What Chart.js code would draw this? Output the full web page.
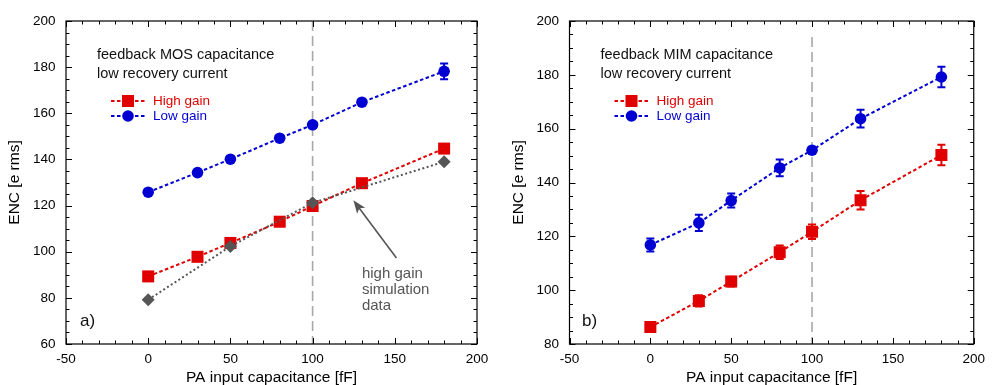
<!DOCTYPE html>
<html>
<head>
<meta charset="utf-8">
<script src="https://cdn.jsdelivr.net/npm/chart.js@4.4.0/dist/chart.umd.min.js"></script>
<style>
  html, body { margin:0; padding:0; background:#fff; }
  #wrap { position:relative; width:992px; height:385px; }
  .panel { position:absolute; top:0; width:496px; height:385px; }
</style>
</head>
<body>
<div id="wrap">
  <div class="panel" style="left:0"><canvas id="chartA" width="496" height="385"></canvas></div>
  <div class="panel" style="left:496px"><canvas id="chartB" width="496" height="385"></canvas></div>
</div>
<script>
// ---- data ----
const CAP      = [0, 30, 50, 80, 100, 130, 180];   // PA input capacitance [fF]
const SIM_CAP  = [0, 50, 100, 180];

// a) feedback MOS capacitance
const HIGH_A     = [89.3, 97.8, 103.8, 113.0, 119.8, 129.7, 144.7];
const HIGH_A_ERR = [0, 0, 0, 0, 0, 0, 0];
const LOW_A      = [125.8, 134.3, 140.1, 149.2, 155.0, 164.8, 178.2];
const LOW_A_ERR  = [0, 0, 0, 0, 0, 0, 3.4];
const SIM_A      = [79.2, 102.3, 121.2, 139.0];

// b) feedback MIM capacitance
const HIGH_B     = [86.3, 96.0, 103.2, 114.1, 121.7, 133.4, 150.2];
const HIGH_B_ERR = [0.8, 2.1, 1.8, 2.5, 2.7, 3.4, 3.8];
const LOW_B      = [116.8, 125.0, 133.3, 145.4, 152.0, 163.7, 179.2];
const LOW_B_ERR  = [2.4, 3.0, 2.6, 3.1, 1.0, 3.3, 3.8];

const SERIES_NAMES = ['High gain', 'Low gain'];
const X_MIN = -50, X_MAX = 200;

const C = { red:'#e00000', blue:'#0000d2', grey:'#555555', vline:'#a9a9a9', text:'#111' };
const FONT = '"Liberation Sans", Arial, Helvetica, sans-serif';

function pts(xs, ys) { return xs.map((x, i) => ({ x: x, y: ys[i] })); }

function mkSet(label, xs, ys, errs, color, style, radius, dash, inLegend) {
  return {
    label, data: pts(xs, ys), errors: errs, inLegend,
    borderColor: color, backgroundColor: color,
    pointBackgroundColor: color, pointBorderColor: color, pointBorderWidth: 0,
    pointStyle: style, pointRadius: radius, pointHoverRadius: radius,
    borderWidth: 2, borderDash: dash, showLine: true, fill: false, tension: 0
  };
}

// draws the plot furniture: dashed marker line, error bars, frame with inward ticks, texts
const deco = {
  id: 'deco',
  beforeDatasetsDraw(chart, args, o) {
    const { ctx, chartArea: a, scales: { x } } = chart;
    const px = x.getPixelForValue(o.vline);
    ctx.save();
    ctx.strokeStyle = C.vline; ctx.lineWidth = 1.6; ctx.setLineDash([10, 5]);
    ctx.beginPath(); ctx.moveTo(px, a.top + o.vlineTopGap); ctx.lineTo(px, a.bottom); ctx.stroke();
    ctx.restore();
  },
  afterDatasetsDraw(chart) {
    const { ctx, scales: { y } } = chart;
    chart.data.datasets.forEach((d, di) => {
      if (!d.errors) return;
      const meta = chart.getDatasetMeta(di);
      ctx.save();
      ctx.strokeStyle = d.borderColor; ctx.lineWidth = 2;
      d.data.forEach((p, i) => {
        const e = d.errors[i];
        if (!e) return;
        const px = meta.data[i].x;
        const y1 = y.getPixelForValue(p.y + e), y2 = y.getPixelForValue(p.y - e);
        ctx.beginPath();
        ctx.moveTo(px, y1); ctx.lineTo(px, y2);
        ctx.moveTo(px - 4, y1); ctx.lineTo(px + 4, y1);
        ctx.moveTo(px - 4, y2); ctx.lineTo(px + 4, y2);
        ctx.stroke();
      });
      ctx.restore();
    });
  },
  afterDraw(chart, args, o) {
    const { ctx, chartArea: a, scales: { x, y } } = chart;
    ctx.save();
    // frame
    ctx.strokeStyle = '#000'; ctx.lineWidth = 1.2;
    ctx.strokeRect(a.left, a.top, a.right - a.left, a.bottom - a.top);
    // inward ticks on all four sides
    ctx.lineWidth = 1;
    ctx.beginPath();
    for (let v = x.min; v <= x.max + 1e-9; v += o.xMinor) {
      const px = Math.round(x.getPixelForValue(v)) + 0.5;
      const len = (Math.abs(v % o.xMajor) < 1e-9) ? 6 : 3.5;
      ctx.moveTo(px, a.bottom); ctx.lineTo(px, a.bottom - len);
      ctx.moveTo(px, a.top); ctx.lineTo(px, a.top + len);
    }
    for (let v = y.min; v <= y.max + 1e-9; v += o.yMinor) {
      const py = Math.round(y.getPixelForValue(v)) + 0.5;
      const len = (Math.abs(v % o.yMajor) < 1e-9) ? 6 : 3.5;
      ctx.moveTo(a.left, py); ctx.lineTo(a.left + len, py);
      ctx.moveTo(a.right, py); ctx.lineTo(a.right - len, py);
    }
    ctx.stroke();

    // header text
    ctx.fillStyle = C.text; ctx.textBaseline = 'middle'; ctx.textAlign = 'left';
    ctx.font = '14.5px ' + FONT;
    o.header.forEach((t, k) => ctx.fillText(t, a.left + 31, a.top + 34 + k * 18.5));

    // legend
    const items = chart.data.datasets.filter(d => d.inLegend);
    items.forEach((d, k) => {
      const ly = a.top + 80 + k * 15;
      ctx.strokeStyle = d.borderColor; ctx.lineWidth = 2; ctx.setLineDash([3.5, 2.5]);
      ctx.beginPath(); ctx.moveTo(a.left + 45, ly); ctx.lineTo(a.left + 80, ly); ctx.stroke();
      ctx.setLineDash([]);
      ctx.fillStyle = d.borderColor;
      const mx = a.left + 62;
      if (d.pointStyle === 'rect') {
        const s = Math.SQRT1_2 * d.pointRadius;
        ctx.fillRect(mx - s, ly - s, 2 * s, 2 * s);
      } else {
        ctx.beginPath(); ctx.arc(mx, ly, d.pointRadius, 0, Math.PI * 2); ctx.fill();
      }
      ctx.font = '13.5px ' + FONT;
      ctx.fillText(d.label, a.left + 87, ly + 0.5);
    });

    // panel tag
    ctx.fillStyle = C.text; ctx.font = '17px ' + FONT;
    ctx.fillText(o.tag, a.left + o.tagDx, a.bottom - 23);

    // arrow + note
    if (o.arrow) {
      const fx = x.getPixelForValue(o.arrow.from[0]), fy = y.getPixelForValue(o.arrow.from[1]);
      const tx = x.getPixelForValue(o.arrow.to[0]), ty = y.getPixelForValue(o.arrow.to[1]);
      const ang = Math.atan2(ty - fy, tx - fx);
      ctx.strokeStyle = C.grey; ctx.fillStyle = C.grey; ctx.lineWidth = 1.6;
      ctx.beginPath(); ctx.moveTo(fx, fy);
      ctx.lineTo(tx - 9 * Math.cos(ang), ty - 9 * Math.sin(ang)); ctx.stroke();
      ctx.beginPath();
      ctx.moveTo(tx, ty);
      ctx.lineTo(tx - 13 * Math.cos(ang) + 5 * Math.sin(ang), ty - 13 * Math.sin(ang) - 5 * Math.cos(ang));
      ctx.lineTo(tx - 10 * Math.cos(ang), ty - 10 * Math.sin(ang));
      ctx.lineTo(tx - 13 * Math.cos(ang) - 5 * Math.sin(ang), ty - 13 * Math.sin(ang) + 5 * Math.cos(ang));
      ctx.closePath(); ctx.fill();
      ctx.font = '15px ' + FONT;
      const nx = x.getPixelForValue(o.note.at[0]), ny = y.getPixelForValue(o.note.at[1]);
      o.note.lines.forEach((t, k) => ctx.fillText(t, nx, ny + k * 16));
    }
    ctx.restore();
  }
};

function makeChart(id, datasets, yMin, yMax, padLeft, padRight, deco_opts) {
  const tickFont = { family: FONT, size: 13.5 };
  const titleFont = { family: FONT, size: 15.5, lineHeight: 1 };
  return new Chart(document.getElementById(id).getContext('2d'), {
    type: 'scatter',
    data: { datasets },
    plugins: [deco],
    options: {
      responsive: false, animation: false, devicePixelRatio: 1,
      layout: { padding: { left: padLeft, right: padRight, top: 21, bottom: 0 } },
      plugins: { legend: { display: false }, tooltip: { enabled: false }, deco: deco_opts },
      scales: {
        x: {
          type: 'linear', min: X_MIN, max: X_MAX,
          grid: { display: false, drawTicks: false }, border: { display: false },
          ticks: { stepSize: 50, padding: 7, color: '#000', font: tickFont },
          title: { display: true, text: 'PA input capacitance [fF]', color: '#000', font: titleFont, padding: { top: 0, bottom: 0 } },
          afterFit: s => { s.height = 41; }
        },
        y: {
          min: yMin, max: yMax,
          grid: { display: false, drawTicks: false }, border: { display: false },
          ticks: { stepSize: 20, padding: 10.5, color: '#000', font: tickFont },
          title: { display: true, text: 'ENC [e rms]', color: '#000', font: titleFont, padding: { top: 7, bottom: 0 } },
          afterFit: s => { s.width = 66; }
        }
      }
    }
  });
}

makeChart('chartA', [
  mkSet('simulation', SIM_CAP, SIM_A, null, C.grey, 'rectRot', 6.5, [2, 2.5], false),
  mkSet(SERIES_NAMES[0], CAP, HIGH_A, HIGH_A_ERR, C.red, 'rect', 8.5, [3.5, 2.5], true),
  mkSet(SERIES_NAMES[1], CAP, LOW_A, LOW_A_ERR, C.blue, 'circle', 5.8, [3.5, 2.5], true)
], 60, 200, 0, 19, {
  vline: 100, vlineTopGap: 0, xMinor: 10, xMajor: 50, yMinor: 5, yMajor: 20,
  header: ['feedback MOS capacitance', 'low recovery current'],
  tag: 'a)', tagDx: 14,
  arrow: { from: [151, 97.3], to: [124.8, 122.3] },
  note: { at: [130, 90.2], lines: ['high gain', 'simulation', 'data'] }
});

makeChart('chartB', [
  mkSet(SERIES_NAMES[0], CAP, HIGH_B, HIGH_B_ERR, C.red, 'rect', 8.5, [3.5, 2.5], true),
  mkSet(SERIES_NAMES[1], CAP, LOW_B, LOW_B_ERR, C.blue, 'circle', 5.8, [3.5, 2.5], true)
], 80, 200, 7.5, 11, {
  vline: 100, vlineTopGap: 16, xMinor: 10, xMajor: 50, yMinor: 5, yMajor: 20,
  header: ['feedback MIM capacitance', 'low recovery current'],
  tag: 'b)', tagDx: 12.5
});
</script>
</body>
</html>
